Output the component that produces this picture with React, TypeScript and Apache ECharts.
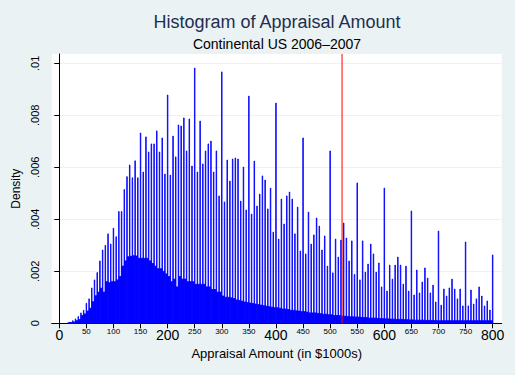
import React, { useEffect, useRef } from "react";
import * as echarts from "echarts";

// Spike heights (density) at round values 0, 5, 10, ..., 800 ($1000s)
const SPIKE_VALUES: number[] = [
  0, 0, 0, 0, 0.00005, 0.0001, 0.00017, 0.00026, 0.0004, 0.0005,
  0.00077, 0.00094, 0.00136, 0.00167, 0.00195, 0.0024, 0.00282, 0.003, 0.00344, 0.00305,
  0.00366, 0.00333, 0.0043, 0.0043, 0.00515, 0.00564, 0.00609, 0.0056, 0.00625, 0.0056,
  0.00732, 0.00582, 0.00717, 0.00659, 0.0069, 0.0069, 0.0074, 0.00659, 0.00713, 0.00574,
  0.00878, 0.0057, 0.0072, 0.0064, 0.00763, 0.00759, 0.0079, 0.00663, 0.00786, 0.00605,
  0.00982, 0.00582, 0.00778, 0.00613, 0.00663, 0.0069, 0.00701, 0.00582, 0.00663, 0.0049,
  0.00967, 0.00467, 0.00628, 0.00547, 0.00632, 0.00636, 0.00632, 0.0047, 0.00601, 0.00436,
  0.00874, 0.0042, 0.00624, 0.00451, 0.00497, 0.00567, 0.00551, 0.0044, 0.0052, 0.00351,
  0.00847, 0.00324, 0.00478, 0.00382, 0.0049, 0.00505, 0.00478, 0.00344, 0.00447, 0.00278,
  0.00713, 0.00267, 0.00428, 0.00305, 0.0034, 0.00405, 0.00374, 0.00282, 0.00336, 0.0022,
  0.00663, 0.00194, 0.00324, 0.00255, 0.0032, 0.00386, 0.00328, 0.0024, 0.00317, 0.00188,
  0.0054, 0.00167, 0.00317, 0.00197, 0.00228, 0.00305, 0.00267, 0.00197, 0.00232, 0.0014,
  0.0052, 0.00124, 0.00224, 0.0017, 0.00224, 0.00255, 0.00224, 0.00151, 0.0022, 0.00124,
  0.00432, 0.00109, 0.00205, 0.00117, 0.00159, 0.00213, 0.00174, 0.00117, 0.00147, 0.00082,
  0.00355, 0.0007, 0.00132, 0.00105, 0.00136, 0.0017, 0.00132, 0.00094, 0.00132, 0.00067,
  0.00313, 0.00067, 0.00128, 0.00074, 0.00094, 0.0014, 0.00105, 0.00067, 0.00086, 0.00051,
  0.00263,
];

// Background density of the non-round values between consecutive spikes (0-5, 5-10, ..., 795-800)
const BASE_VALUES: number[] = [
  0, 0, 0, 0.00002, 0.00003, 0.00005, 0.0001, 0.00015, 0.0003, 0.00036,
  0.00047, 0.00058, 0.00083, 0.00106, 0.0012, 0.00135, 0.0012, 0.0016, 0.00156, 0.0016,
  0.0016, 0.00167, 0.0018, 0.0022, 0.0024, 0.00256, 0.00258, 0.0026, 0.00259, 0.0025,
  0.0025, 0.0025, 0.0025, 0.0024, 0.0023, 0.0022, 0.0021, 0.0021, 0.002, 0.0019,
  0.0018, 0.0016, 0.0017, 0.0014, 0.0018, 0.0017, 0.0017, 0.0016, 0.0016, 0.0016,
  0.0015, 0.0015, 0.0015, 0.0015, 0.0014, 0.0014, 0.0013, 0.0013, 0.0012, 0.0012,
  0.00105, 0.001, 0.001, 0.00098, 0.00095, 0.0009, 0.00088, 0.00085, 0.00082, 0.0008,
  0.00078, 0.00076, 0.00074, 0.00072, 0.0007, 0.00068, 0.00066, 0.00064, 0.00062, 0.0006,
  0.0006, 0.00058, 0.00055, 0.00055, 0.00053, 0.0005, 0.0005, 0.00048, 0.00047, 0.00045,
  0.00045, 0.00043, 0.0004, 0.0004, 0.0004, 0.00038, 0.00037, 0.00035, 0.00035, 0.00033,
  0.00033, 0.0003, 0.0003, 0.0003, 0.00028, 0.00027, 0.00026, 0.00025, 0.00025, 0.00024,
  0.00024, 0.00023, 0.00022, 0.00022, 0.0002, 0.0002, 0.0002, 0.00019, 0.00018, 0.00018,
  0.00017, 0.00017, 0.00016, 0.00016, 0.00015, 0.00015, 0.00015, 0.00014, 0.00014, 0.00013,
  0.00013, 0.00012, 0.00012, 0.00012, 0.00012, 0.00011, 0.00011, 0.00011, 0.00011, 0.0001,
  0.0001, 0.0001, 0.0001, 0.0001, 0.0001, 0.0001, 0.0001, 0.0001, 0.0001, 0.0001,
  0.0001, 0.0001, 0.0001, 0.0001, 0.0001, 0.0001, 0.0001, 0.0001, 0.0001, 0.0001,
];

const SPIKE_STEP = 5;
const X_TICKS: number[] = [0, 50, 100, 150, 200, 250, 300, 350, 400, 450, 500, 550, 600, 650, 700, 750, 800];
const X_MAJOR_LABELS: number[] = [0, 200, 400, 600, 800];
const Y_TICKS: number[] = [0, 0.002, 0.004, 0.006, 0.008, 0.01];
const Y_TICK_LABELS: string[] = ["0", ".002", ".004", ".006", ".008", ".01"];
const MARKER_X = 522;

const TITLE = "Histogram of Appraisal Amount";
const SUBTITLE = "Continental US 2006\u20132007";
const X_TITLE = "Appraisal Amount (in $1000s)";
const Y_TITLE = "Density";

const X_MIN = -14;
const X_MAX = 816.7;
const Y_MAX = 0.010358;

const FONT = "'Liberation Sans', Arial, Helvetica, sans-serif";
const BLUE = "#0000ff";

export default function App() {
  const ref = useRef<HTMLDivElement>(null);
  useEffect(() => {
    if (!ref.current) return;
    const chart = echarts.init(ref.current, undefined, { renderer: "svg" });

    const bins: number[][] = [];
    BASE_VALUES.forEach((b, i) => {
      const v = i * SPIKE_STEP;
      bins.push([v + 0.5, v + SPIKE_STEP - 0.5, b]);
    });
    SPIKE_VALUES.forEach((s, i) => {
      const v = i * SPIKE_STEP;
      bins.push([v - 0.5, v + 0.5, s]);
    });

    chart.setOption({
      animation: false,
      backgroundColor: "#eaf2f3",
      textStyle: { fontFamily: FONT },
      grid: {
        left: 51.7,
        top: 54,
        width: 450,
        height: 269.3,
        show: true,
        backgroundColor: "#ffffff",
        borderWidth: 0,
        containLabel: false,
      },
      graphic: [
        {
          type: "text",
          x: 277,
          y: 22,
          style: {
            text: TITLE,
            font: `18px ${FONT}`,
            fill: "#1f2d4f",
            align: "center",
            verticalAlign: "middle",
          },
        },
        {
          type: "text",
          x: 277,
          y: 43.5,
          style: {
            text: SUBTITLE,
            font: `14px ${FONT}`,
            fill: "#000000",
            align: "center",
            verticalAlign: "middle",
          },
        },
      ],
      xAxis: {
        type: "value",
        min: X_MIN,
        max: X_MAX,
        name: X_TITLE,
        nameLocation: "middle",
        nameGap: 20,
        nameTextStyle: { fontSize: 13, color: "#000", fontFamily: FONT },
        axisLine: { show: true, onZero: false, lineStyle: { color: "#000", width: 1 } },
        axisTick: { show: true, length: 5, customValues: X_TICKS, lineStyle: { color: "#000" } },
        axisLabel: {
          customValues: X_TICKS,
          margin: 5,
          formatter: (v: number) =>
            X_MAJOR_LABELS.includes(v) ? `{big|${v}}` : `{small|${v}}`,
          rich: {
            big: { fontSize: 14, lineHeight: 13, color: "#000", fontFamily: FONT },
            small: { fontSize: 8, lineHeight: 6, color: "#000", fontFamily: FONT },
          },
        },
        splitLine: { show: false },
      },
      yAxis: {
        type: "value",
        min: 0,
        max: Y_MAX,
        name: Y_TITLE,
        nameLocation: "middle",
        nameRotate: 90,
        nameGap: 24,
        nameTextStyle: { fontSize: 12, color: "#000", fontFamily: FONT },
        axisLine: { show: true, lineStyle: { color: "#000", width: 1 } },
        axisTick: { show: true, length: 5, customValues: Y_TICKS, lineStyle: { color: "#000" } },
        axisLabel: {
          customValues: Y_TICKS,
          rotate: 90,
          margin: 11,
          fontSize: 11,
          color: "#000",
          fontFamily: FONT,
          formatter: (v: number) => {
            const idx = Y_TICKS.findIndex((t) => Math.abs(t - v) < 1e-9);
            return idx >= 0 ? Y_TICK_LABELS[idx] : "";
          },
        },
        splitLine: { show: true, lineStyle: { color: "#eaf2f3", width: 1 } },
      },
      series: [
        {
          type: "custom",
          z: 2,
          data: bins,
          encode: { x: [0, 1], y: 2 },
          renderItem: (params: any, api: any) => {
            const x0 = api.value(0);
            const x1 = api.value(1);
            const y = api.value(2);
            if (!(y > 0)) return null;
            const p0 = api.coord([x0, y]);
            const p1 = api.coord([x1, 0]);
            return {
              type: "rect",
              shape: { x: p0[0], y: p0[1], width: p1[0] - p0[0], height: p1[1] - p0[1] },
              style: { fill: BLUE, stroke: BLUE, lineWidth: 0.8 },
            };
          },
        },
        {
          type: "line",
          z: 3,
          data: [
            [MARKER_X, 0],
            [MARKER_X, Y_MAX],
          ],
          symbol: "none",
          lineStyle: { color: "#ff0000", width: 1 },
        },
      ],
    });
    return () => chart.dispose();
  }, []);
  return (
    <div
      ref={ref}
      style={{ position: "fixed", left: 0, top: 0, width: 515, height: 375 }}
    />
  );
}
